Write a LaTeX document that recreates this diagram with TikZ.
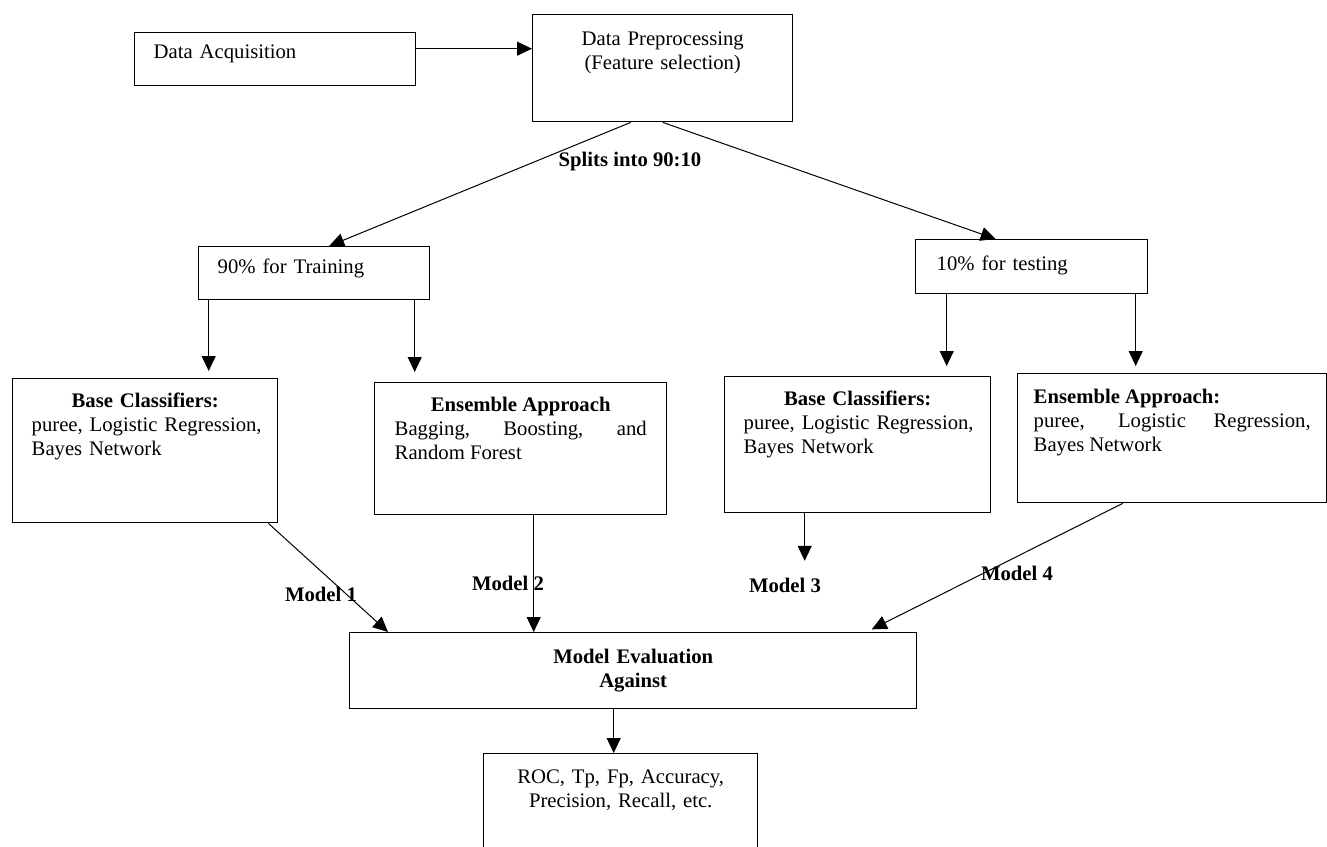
\documentclass[tikz,border=0pt]{standalone}
\usepackage{fontspec}
\setmainfont{Liberation Serif}
\usepackage{tikz}
\usetikzlibrary{arrows.meta,positioning}
\newcommand{\diagfont}{\fontsize{20.7}{24}\selectfont}

\begin{document}
\begin{tikzpicture}[x=1pt,y=-1pt,>={Triangle[length=15pt,width=14pt]},line width=1pt]
  \tikzstyle{blk}=[draw,line width=1.4pt,anchor=north west,inner ysep=0pt,font=\diagfont]
  \tikzstyle{lbl}=[anchor=base,font=\diagfont\bfseries]
  \useasboundingbox (0,0) rectangle (1327,846);
  \clip (0,0) rectangle (1327,846);

  % top row
  \node[blk,text width=243pt,inner xsep=19pt,text height=26pt,text depth=27pt,align=left] (acq) at (134,32) {Data Acquisition};
  \node[blk,text width=240pt,inner xsep=10pt,text height=31pt,text depth=76pt,align=center] (prep) at (532,14) {Data Preprocessing\\(Feature selection)};
  \node[lbl] (split) at (630,166) {Splits into 90:10};

  % split
  \node[blk,text width=193pt,inner xsep=19pt,text height=27pt,text depth=26pt,align=left] (train) at (198,246) {90\% for Training};
  \node[blk,text width=190pt,inner xsep=21pt,text height=31pt,text depth=23pt,align=left] (test) at (915,239) {10\% for testing};

  % classifiers
  \node[blk,text width=241pt,inner xsep=12pt,text height=29pt,text depth=115pt,align=left] (trbase) at (12,378)
    {\makebox[\linewidth]{\bfseries Base Classifiers:}\\\hspace*{7pt}puree, Logistic Regression,\\\hspace*{7pt}Bayes Network};
  \node[blk,text width=252pt,inner xsep=20pt,text height=29pt,text depth=103pt,align=justify] (trens) at (374,382)
    {\makebox[\linewidth]{\bfseries Ensemble Approach}\\Bagging, Boosting, and\linebreak Random Forest};
  \node[blk,text width=242pt,inner xsep=12pt,text height=29pt,text depth=107pt,align=left] (tsbase) at (724,376)
    {\makebox[\linewidth]{\bfseries Base Classifiers:}\\\hspace*{7pt}puree, Logistic Regression,\\\hspace*{7pt}Bayes Network};
  \node[blk,text width=277pt,inner xsep=16pt,text height=30pt,text depth=99pt,align=justify] (tsens) at (1017,373)
    {{\bfseries Ensemble Approach:}\\puree, Logistic Regression,\linebreak Bayes Network};

  \node[lbl] (m1) at (321,601) {Model 1};
  \node[lbl] (m2) at (508,590) {Model 2};
  \node[lbl] (m3) at (785,592) {Model 3};
  \node[lbl] (m4) at (1017,580) {Model 4};

  % evaluation
  \node[blk,text width=547pt,inner xsep=10pt,text height=31pt,text depth=45pt,align=center,font=\diagfont\bfseries] (eval) at (349,632) {Model Evaluation\\Against};
  \node[blk,text width=254pt,inner xsep=10pt,text height=30pt,text depth=70pt,align=center] (metric) at (483,753) {ROC, Tp, Fp, Accuracy,\\Precision, Recall, etc.};

  % connectors
  \draw[->] ([yshift=10.5pt]acq.east) -- ([yshift=10.5pt]acq.east -| prep.west);
  \draw[->] ([xshift=-32pt]prep.south) -- ([xshift=15pt]train.north);
  \draw[->] (prep.south) -- ([xshift=-36pt]test.north);
  \draw[->,shorten >=7pt] ([xshift=-105.5pt]train.south) -- ([xshift=-105.5pt]train.south |- trbase.north);
  \draw[->,shorten >=10pt] ([xshift=100.5pt]train.south) -- ([xshift=100.5pt]train.south |- trens.north);
  \draw[->,shorten >=10pt] ([xshift=-85pt]test.south) -- ([xshift=-85pt]test.south |- tsbase.north);
  \draw[->,shorten >=7pt] ([xshift=104pt]test.south) -- ([xshift=104pt]test.south |- tsens.north);
  \draw[->] ([xshift=-10pt]trbase.south east) -- ([xshift=39pt]eval.north west);
  \draw[->] ([xshift=13pt]trens.south) -- ([xshift=13pt]trens.south |- eval.north);
  \draw[->,shorten >=13pt] ([xshift=-53pt]tsbase.south) -- ([xshift=-53pt]tsbase.south |- m3.north);
  \draw[->,shorten >=6pt] ([xshift=-49.5pt]tsens.south) -- ([xshift=-51pt]eval.north east);
  \draw[->] ([xshift=-19.5pt]eval.south) -- ([xshift=-19.5pt]eval.south |- metric.north);
\end{tikzpicture}
\end{document}
